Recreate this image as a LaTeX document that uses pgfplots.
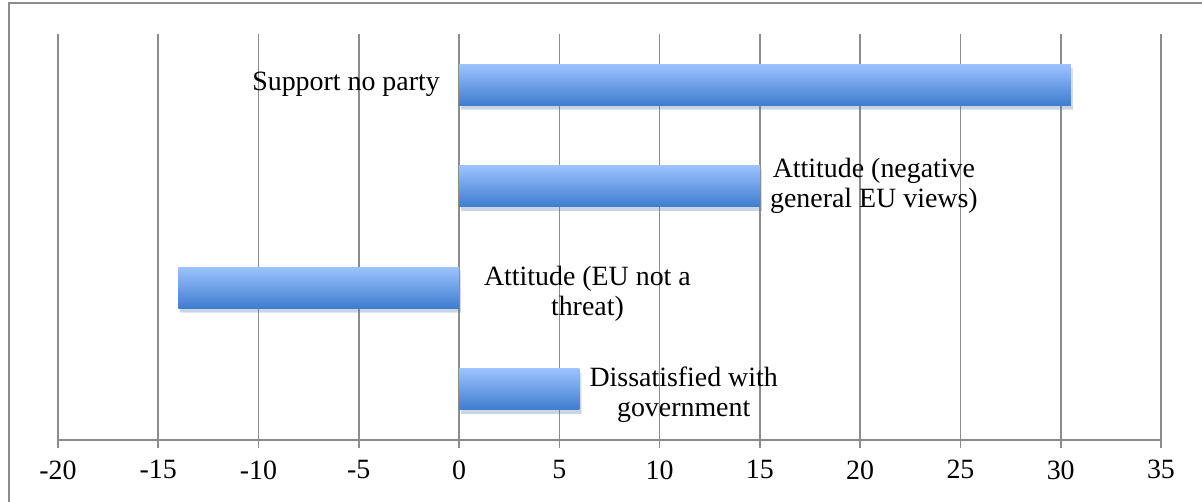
\documentclass[border=0pt]{standalone}
\usepackage{pgfplots}
\pgfplotsset{compat=1.18}
\usepackage{fontspec}
\setmainfont{Liberation Serif}
\usetikzlibrary{shadows}
\definecolor{gridgray}{RGB}{140,140,140}
\definecolor{bartop}{RGB}{156,194,255}
\definecolor{barbot}{RGB}{62,125,206}
\pgfplotsset{mybar/.style={xbar, bar width=41bp, bar shift=0pt, draw=none,
  top color=bartop, bottom color=barbot,
  drop shadow={shadow xshift=2bp, shadow yshift=-4bp, opacity=0.18}}}
\begin{document}
\begin{tikzpicture}
\useasboundingbox (0,0) rectangle (1202bp,502bp);
\draw[gridgray, line width=1.5bp] (9bp,-5bp) -- (9bp,499bp) -- (1210bp,499bp);
\begin{axis}[
  at={(58bp,62bp)}, anchor=south west,
  scale only axis, width=1103bp, height=406bp,
  xmin=-20, xmax=35, ymin=0.5, ymax=4.5,
  axis x line=bottom, axis y line=none,
  axis line style={gridgray, line width=1.7bp, -},
  xtick={-20,-15,-10,-5,0,5,10,15,20,25,30,35},
  xticklabels={-20,-15,-10,-5,0,5,10,15,20,25,30,35},
  xmajorgrids, grid style={gridgray, line width=1.7bp},
  major tick length=8bp,
  tick style={gridgray, line width=1.7bp},
  xtick pos=bottom, tick align=outside,
  ytick=\empty,
  xticklabel style={font=\fontsize{28}{32}\selectfont, yshift=-9bp},
  clip=false,
]
\addplot[mybar] coordinates {(30.5,4)};
\addplot[mybar] coordinates {(15,3)};
\addplot[mybar] coordinates {(-14,2)};
\addplot[mybar] coordinates {(6,1)};
\begin{scope}[every node/.style={font=\fontsize{28}{30}\selectfont, align=center, inner sep=0pt}]
\node[anchor=east] at (axis cs:-0.95,4) [yshift=0bp] {Support no party};
\node[anchor=west] at (axis cs:15.5,3) {Attitude (negative\\general EU views)};
\node at (axis cs:6.4,2) [yshift=-6bp] {Attitude (EU not a\\threat)};
\node at (axis cs:11.2,1) [yshift=-5bp] {Dissatisfied with\\government};
\end{scope}
\end{axis}
\end{tikzpicture}
\end{document}
